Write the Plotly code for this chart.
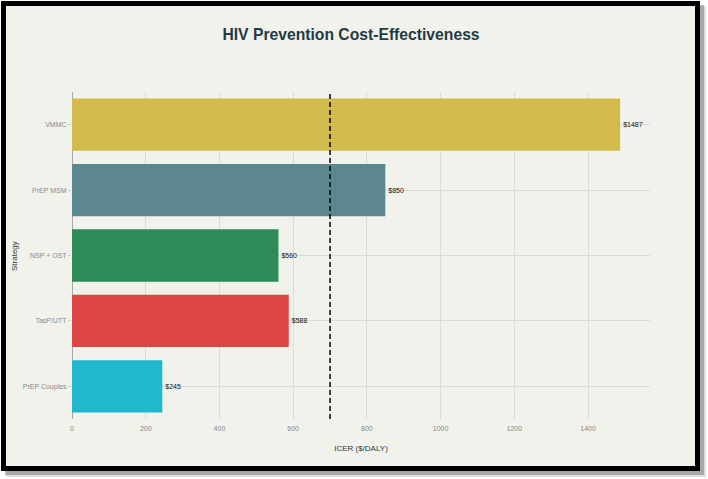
import plotly.graph_objects as go

# ---- data ----
strategies = ["PrEP Couples", "TasP/UTT", "NSP + OST", "PrEP MSM", "VMMC"]
icer_values = [245, 588, 560, 850, 1487]
bar_colors = ["#1FB8CD", "#DB4545", "#2E8B57", "#5D878F", "#D2BA4C"]
threshold = 700
x_ticks = [0, 200, 400, 600, 800, 1000, 1200, 1400]

# ---- layout geometry ----
W, H = 708, 479
L, R, T, B = 72, 58, 92, 60
PW, PH = W - L - R, H - T - B

def px2x(px):
    return (px - L) / PW

def py2y(py):
    return (H - B - py) / PH

FONT = "Liberation Sans, Arial, sans-serif"
CREAM = "#F2F2EC"
DARK = "#1F3C46"

fig = go.Figure()
fig.add_trace(go.Bar(
    y=strategies,
    x=icer_values,
    orientation="h",
    marker=dict(color=bar_colors, line=dict(width=0)),
    text=[f"${v}" for v in icer_values],
    textposition="outside",
    cliponaxis=False,
    textfont=dict(family=FONT, size=7, color="#111111"),
    showlegend=False,
))

shapes = [
    # drop shadow (soft)
    dict(type="rect", xref="paper", yref="paper", layer="below",
         x0=px2x(6), x1=px2x(706), y0=py2y(6), y1=py2y(477),
         fillcolor="rgba(0,0,0,0.12)", line=dict(width=0)),
    dict(type="rect", xref="paper", yref="paper", layer="below",
         x0=px2x(5), x1=px2x(704), y0=py2y(5), y1=py2y(475),
         fillcolor="rgba(0,0,0,0.25)", line=dict(width=0)),
    # framed card
    dict(type="rect", xref="paper", yref="paper", layer="below",
         x0=px2x(3.5), x1=px2x(697.5), y0=py2y(3.5), y1=py2y(468.5),
         fillcolor=CREAM, line=dict(color="#000000", width=5)),
    # threshold line
    dict(type="line", xref="x", yref="paper", layer="above",
         x0=threshold, x1=threshold, y0=0, y1=1,
         line=dict(color="#000000", width=1.5, dash="5px,3px")),
]

fig.update_layout(
    width=W, height=H,
    margin=dict(l=L, r=R, t=T, b=B, pad=0, autoexpand=False),
    paper_bgcolor="#FFFFFF",
    plot_bgcolor="rgba(0,0,0,0)",
    bargap=0.2,
    shapes=shapes,
    title=dict(
        text="<b>HIV Prevention Cost-Effectiveness</b>",
        x=351 / W, xanchor="center",
        y=1 - 35 / H, yanchor="middle",
        font=dict(family=FONT, size=15.7, color=DARK),
    ),
    annotations=[dict(
        text="Strategy", textangle=-90,
        xref="paper", yref="paper",
        x=px2x(15), y=py2y(256), xanchor="center", yanchor="middle",
        showarrow=False,
        font=dict(family=FONT, size=8, color=DARK),
    )],
    font=dict(family=FONT, size=7, color="#777777"),
    xaxis=dict(
        range=[0, 1568],
        automargin=False,
        tickvals=x_ticks,
        ticktext=[str(v) for v in x_ticks],
        showgrid=True, gridcolor="#DCDCD6", gridwidth=1,
        zeroline=True, zerolinecolor="#A8A8A4", zerolinewidth=1,
        showline=False,
        ticks="outside", ticklen=3, tickcolor="rgba(0,0,0,0)",
        tickfont=dict(family=FONT, size=7, color="#888888"),
        title=dict(text="ICER ($/DALY)", standoff=13,
                   font=dict(family=FONT, size=8, color=DARK)),
    ),
    yaxis=dict(
        automargin=False,
        showgrid=True, gridcolor="#DCDCD6", gridwidth=1,
        showline=False,
        ticks="outside", ticklen=3, tickcolor="#CCCCCC",
        tickfont=dict(family=FONT, size=7, color="#888888"),
    ),
)

fig.write_html("out.html")
